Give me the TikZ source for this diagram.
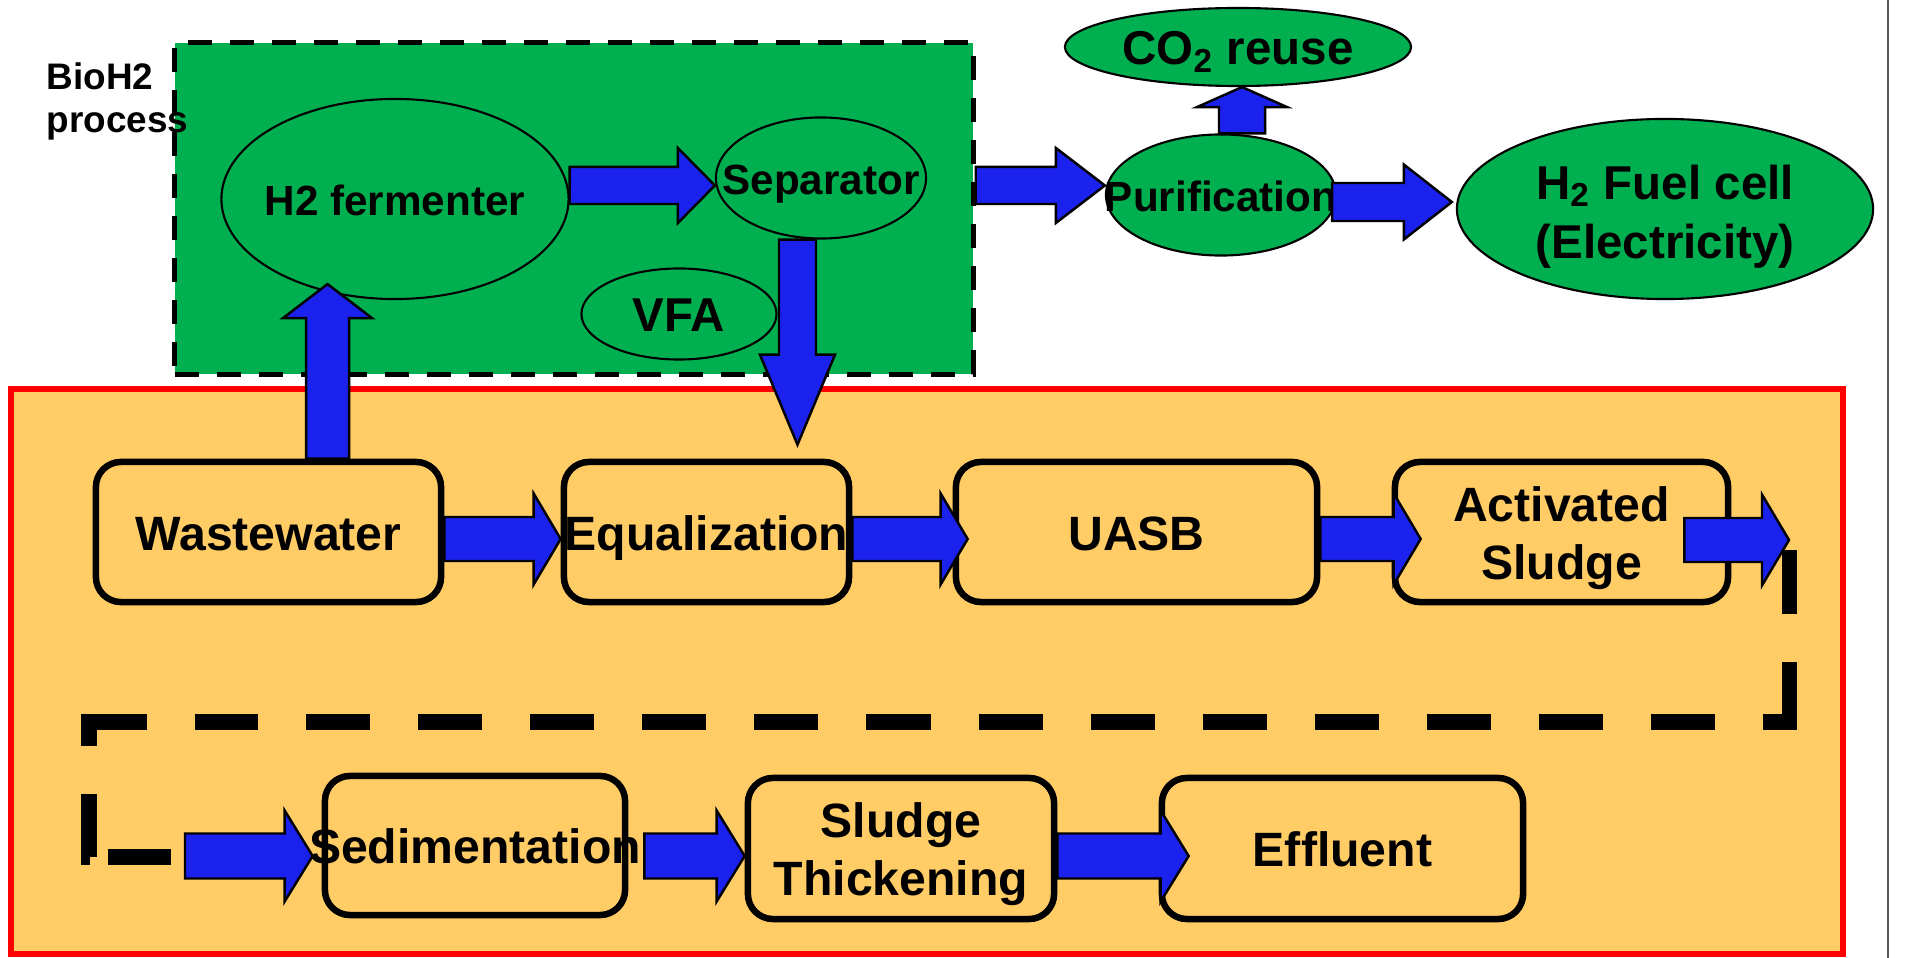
\documentclass[tikz,border=0pt]{standalone}
\usepackage{xcolor}
\usepackage{fontspec}
\setmainfont{Liberation Sans}
\usepackage{tikz}
\usetikzlibrary{calc}
\usetikzlibrary{shapes.geometric}

\definecolor{procgreen}{RGB}{0,176,80}
\definecolor{plantorange}{RGB}{255,204,102}
\definecolor{flowblue}{RGB}{28,34,238}

% text that does not widen its node, baseline on the first line
\newcommand{\mtext}[1]{\makebox[0pt]{\begin{tabular}[t]{@{}c@{}}#1\end{tabular}}}

\tikzset{
    stage/.style = {rectangle, rounded corners=0.25cm, draw=black, line width=0.065cm, fill=plantorange, inner sep=0pt, font=\bfseries\fontsize{13.7}{16.5}\selectfont, text height=10.4pt, text depth=0pt},
    stagetwo/.style = {stage, text height=0pt, text depth=6.14pt},
    tank/.style = {ellipse, draw=black, line width=0.6pt, fill=procgreen, inner sep=0pt, font=\bfseries\fontsize{12}{14}\selectfont, text height=9.4pt, text depth=0pt},
    tankbig/.style = {tank, font=\bfseries\fontsize{13.5}{16.9}\selectfont, text height=10.1pt},
    tanktwo/.style = {tankbig, text height=0pt, text depth=5.54pt},
}

\begin{document}
\begin{tikzpicture}[x=0.01cm, y=0.01cm]
\tikzset{
    biobox/.style = {rectangle, draw=black, line width=0.05cm, dash pattern=on 0.24cm off 0.18cm, fill=procgreen},
    plantbox/.style = {rectangle, draw=red, line width=0.06cm, fill=plantorange},
    grouplabel/.style = {align=left, inner sep=0pt, font=\bfseries\fontsize{10.5}{12.2}\selectfont},
    flow/.style = {draw=black, line width=0.7pt, fill=flowblue},
    returnline/.style = {draw=black, line width=0.15cm, dash pattern=on 0.64cm off 0.48cm},
    shaft/.store in=\flowshaft, shaft=0.22cm,
    headw/.store in=\flowheadw, headw=0.455cm,
    headl/.store in=\flowheadl, headl=0.27cm,
    flowright/.style = {to path={let \p1=(\tikztostart), \p2=(\tikztotarget) in
        (\x1,\y1+\flowshaft) -- (\x2-\flowheadl,\y1+\flowshaft) -- (\x2-\flowheadl,\y1+\flowheadw)
        -- (\x2,\y1) -- (\x2-\flowheadl,\y1-\flowheadw) -- (\x2-\flowheadl,\y1-\flowshaft)
        -- (\x1,\y1-\flowshaft) -- cycle}},
    flowup/.style = {to path={let \p1=(\tikztostart), \p2=(\tikztotarget) in
        (\x1-\flowshaft,\y1) -- (\x1-\flowshaft,\y2-\flowheadl) -- (\x1-\flowheadw,\y2-\flowheadl)
        -- (\x1,\y2) -- (\x1+\flowheadw,\y2-\flowheadl) -- (\x1+\flowshaft,\y2-\flowheadl)
        -- (\x1+\flowshaft,\y1) -- cycle}},
    flowdown/.style = {to path={let \p1=(\tikztostart), \p2=(\tikztotarget) in
        (\x1-\flowshaft,\y1) -- (\x1-\flowshaft,\y2+\flowheadl) -- (\x1-\flowheadw,\y2+\flowheadl)
        -- (\x1,\y2) -- (\x1+\flowheadw,\y2+\flowheadl) -- (\x1+\flowshaft,\y2+\flowheadl)
        -- (\x1+\flowshaft,\y1) -- cycle}},
}
\useasboundingbox (0,0) rectangle (1923,-958);
\draw[gray!70!black, line width=0.02cm] (1888,0) -- (1888,-958);
%
\node[plantbox, minimum width=18.30cm, minimum height=5.64cm] (plant) at (927,-671.5) {};
\node[biobox, minimum width=7.98cm, minimum height=3.31cm] (bio) at (574,-208.5) {};
\node[grouplabel, anchor=north west] (biolabel) at (46,-62) {BioH2\\process};
%
\node[tank, minimum width=3.47cm, minimum height=2.00cm] (ferm) at (395,-199) {\mtext{H2 fermenter}};
\node[tank, minimum width=2.10cm, minimum height=1.21cm] (sep) at (821,-178) {\mtext{Separator}};
\node[tankbig, minimum width=1.95cm, minimum height=0.91cm] (vfa) at (679,-314) {\mtext{VFA}};
\node[tankbig, minimum width=3.46cm, minimum height=0.78cm] (co2) at (1238,-47) {\mtext{CO\textsubscript{2} reuse}};
\node[tank, minimum width=2.30cm, minimum height=1.21cm] (puri) at (1221,-195) {\mtext{Purification}};
\node[tanktwo, minimum width=4.16cm, minimum height=1.80cm] (fuel) at (1665,-209) {\mtext{H\textsubscript{2} Fuel cell\\(Electricity)}};
%
\node[stage, minimum width=3.45cm, minimum height=1.40cm] (ww) at (268.5,-532) {\mtext{Wastewater}};
\node[stage, minimum width=2.85cm, minimum height=1.40cm] (eq) at (706.5,-532) {\mtext{Equalization}};
\node[stage, minimum width=3.61cm, minimum height=1.40cm] (uasb) at (1136.5,-532) {\mtext{UASB}};
\node[stagetwo, minimum width=3.33cm, minimum height=1.40cm] (as) at (1561.5,-532) {\mtext{Activated\\Sludge}};
\node[stage, minimum width=3.00cm, minimum height=1.39cm] (sed) at (475,-845.5) {\mtext{Sedimentation}};
\node[stagetwo, minimum width=3.06cm, minimum height=1.41cm] (st) at (901,-848.5) {\mtext{Sludge\\Thickening}};
\node[stage, minimum width=3.61cm, minimum height=1.41cm] (eff) at (1342.5,-848.5) {\mtext{Effluent}};
%
\coordinate (drop) at (1789,-540);
\coordinate (turnr) at (1789,-722);
\coordinate (turnl) at (89,-722);
\coordinate (feed) at (89,-857);
\coordinate (feedin) at (185,-856);
%
\draw[flow] ([yshift=0.135cm]ferm.east) to[flowright, shaft=0.185cm, headw=0.375cm, headl=0.37cm] (sep.west);
\draw[flow] ([yshift=0.23cm]bio.east) to[flowright, shaft=0.185cm, headw=0.375cm, headl=0.49cm] (puri.west);
\draw[flow] ([xshift=-0.05cm,yshift=-0.07cm]puri.east) to[flowright, shaft=0.19cm, headw=0.375cm, headl=0.48cm] ([xshift=-0.04cm]fuel.west);
\draw[flow] ([xshift=0.21cm]puri.north) to[flowup, shaft=0.23cm, headw=0.45cm, headl=0.20cm] (co2.south);
\draw[flow] ([xshift=0.59cm]ww.north) to[flowup, shaft=0.215cm, headw=0.445cm, headl=0.34cm] ([yshift=0.16cm]ferm.south);
\draw[flow] ([xshift=-0.235cm]sep.south) to[flowdown, shaft=0.185cm, headw=0.375cm, headl=0.90cm] ([yshift=0.14cm]eq.north);
%
\draw[flow] ([yshift=-0.07cm]ww.east) to[flowright] (eq.west);
\draw[flow] ([yshift=-0.07cm]eq.east) to[flowright] ([xshift=0.15cm]uasb.west);
\draw[flow] ([yshift=-0.07cm]uasb.east) to[flowright] ([xshift=0.29cm]as.west);
\draw[flow] ([xshift=-0.47cm,yshift=-0.08cm]as.east) to[flowright] (drop);
%
% dashed return from the top row to the bottom row
\draw[returnline, dash pattern=on 0.64cm off 0.48cm on 0.86cm] ([yshift=-0.10cm]drop) -- (turnr) -- ([xshift=-0.26cm]turnr);
\draw[returnline] ([xshift=-0.74cm]turnr) -- ([xshift=1.06cm]turnl);
\draw[returnline, dash pattern=on 0.82cm off 0.48cm on 0.64cm off 0.18cm on 0.64cm] ([xshift=0.58cm]turnl) -- (turnl) -- (feed) -- ([xshift=0.82cm]feed);
%
\draw[flow] (feedin) to[flowright, shaft=0.225cm, headl=0.28cm] ([xshift=-0.09cm]sed.west);
\draw[flow] ([xshift=0.16cm,yshift=-0.105cm]sed.east) to[flowright, shaft=0.225cm, headl=0.28cm] (st.west);
\draw[flow] ([yshift=-0.075cm]st.east) to[flowright, shaft=0.225cm, headl=0.28cm] ([xshift=0.30cm]eff.west);
\end{tikzpicture}
\end{document}
